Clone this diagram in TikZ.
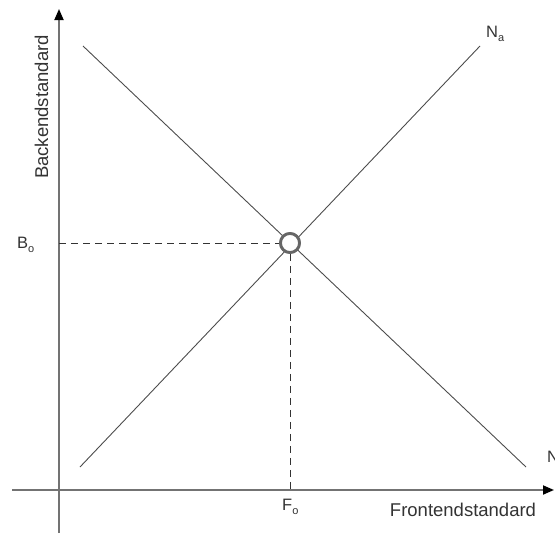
\documentclass[tikz,border=0pt]{standalone}
\usepackage{fontspec}
\setmainfont{Liberation Sans}
\usetikzlibrary{arrows.meta}
\newcommand{\lowsub}[1]{\raisebox{-0.5ex}{\fontsize{11}{11}\selectfont #1}}
\tikzset{
  axis/.style={draw=black!55, line width=1.8pt, -{Triangle[length=11pt,width=9pt]}, arrows={[color=black]}},
  curve/.style={draw=black!70, line width=0.9pt},
  guide/.style={draw=black!80, line width=0.9pt, dash pattern=on 7pt off 5pt},
  lbl/.style={inner sep=0pt, font=\fontsize{18.5}{20}\selectfont, text=black!80},
  small/.style={inner sep=0pt, font=\fontsize{16.5}{18}\selectfont, text=black!80},
  eq/.style={circle, draw=black!60, line width=2.8pt, fill=white, minimum size=19pt, inner sep=0pt}
}
\begin{document}
\begin{tikzpicture}[x=1pt,y=-1pt]
\useasboundingbox (0,0) rectangle (555,536);
% axes
\coordinate (yb) at (59,533);
\coordinate (yt) at (59,9);
\coordinate (xl) at (12,490);
\coordinate (xr) at (554,490);
\draw[axis] (yb) -- (yt);
\draw[axis] (xl) -- (xr);
% lines
\coordinate (d1) at (83,46);
\coordinate (d2) at (526,467);
\coordinate (a1) at (80,467);
\coordinate (a2) at (480,46);
\draw[curve] (d1) -- (d2);
\draw[curve] (a1) -- (a2);
% equilibrium
\node[eq] (c) at (290,243) {};
\coordinate (by) at (59,243);
\coordinate (fx) at (290,490);
\draw[guide] (by) -- (c.west);
\draw[guide] (c.south) -- (fx);
\node[eq] at (c) {};
% labels
\node[small, anchor=base west] (B) at (17,248) {B\lowsub{o}};
\node[small, anchor=base west] (F) at (282,510) {F\lowsub{o}};
\node[small, anchor=base west] (Na) at (486,37) {N\lowsub{a}};
\node[small, anchor=base west] (Nn) at (547,462) {N};
\node[lbl, anchor=base] (fs) at (463,516) {Frontendstandard};
\node[lbl, anchor=base, rotate=90] (bs) at (48,107) {Backendstandard};
\end{tikzpicture}
\end{document}
